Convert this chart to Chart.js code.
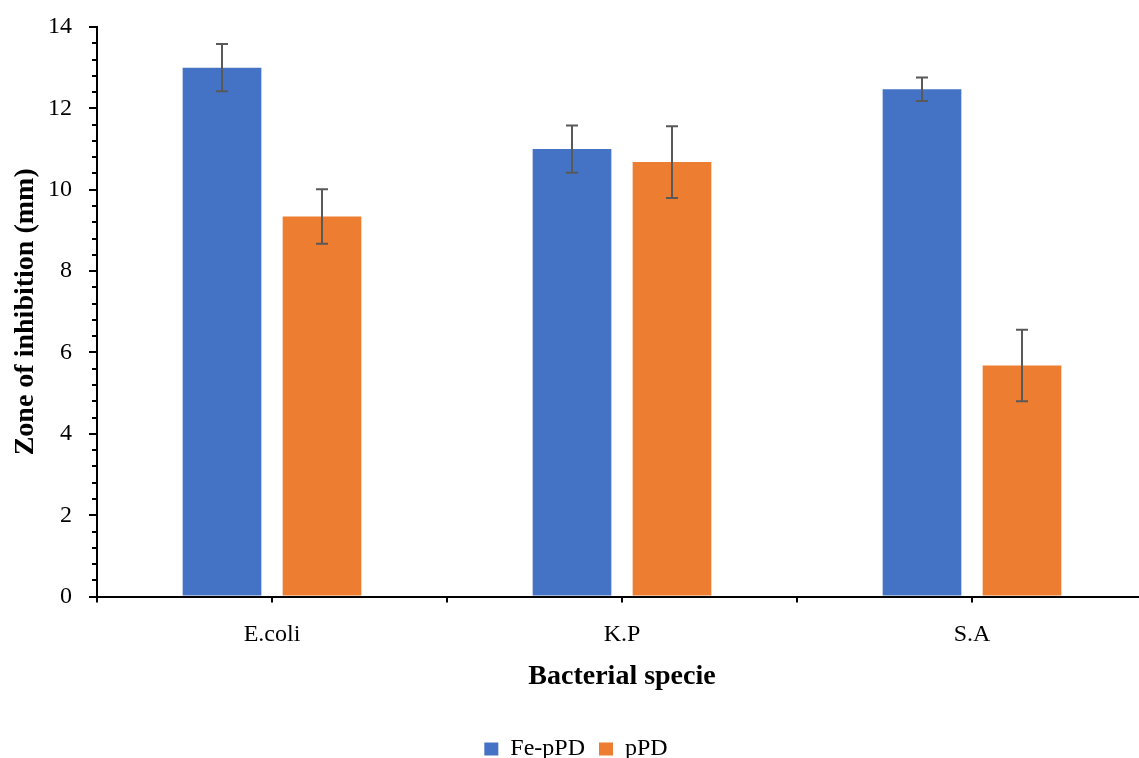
<!DOCTYPE html>
<html>
<head>
<meta charset="utf-8">
<script src="https://cdn.jsdelivr.net/npm/chart.js@4/dist/chart.umd.min.js"></script>
<style>
  html, body { margin: 0; padding: 0; overflow: hidden; background: #fff; }
  canvas { display: block; }
</style>
</head>
<body>
<canvas id="c" width="1150" height="771"></canvas>
<script>
// Zone of inhibition (mm) per bacterial species, mean and standard deviation
const species = ['E.coli', 'K.P', 'S.A'];
const fePpd = [13.0, 11.0, 12.47];
const fePpdErr = [0.58, 0.58, 0.29];
const pPd = [9.34, 10.68, 5.68];
const pPdErr = [0.67, 0.88, 0.88];
const yTicks = [0, 2, 4, 6, 8, 10, 12, 14];
const yMinorStep = 0.4;

const FONT = "'Liberation Serif', 'Times New Roman', serif";
const errors = [fePpdErr, pPdErr];

// Error whiskers, y tick marks (major + minor) and mid-category x ticks
const extrasPlugin = {
  id: 'extras',
  afterDatasetsDraw(chart) {
    const ctx = chart.ctx;
    const y = chart.scales.y;
    const x = chart.scales.x;
    ctx.save();
    // error bars
    ctx.strokeStyle = '#595959';
    ctx.lineWidth = 2;
    chart.data.datasets.forEach((ds, di) => {
      const meta = chart.getDatasetMeta(di);
      meta.data.forEach((bar, i) => {
        const v = ds.data[i];
        const e = errors[di][i];
        const yt = y.getPixelForValue(v + e);
        const yb = y.getPixelForValue(v - e);
        const cx = bar.x;
        ctx.beginPath();
        ctx.moveTo(cx, yt); ctx.lineTo(cx, yb);
        ctx.moveTo(cx - 6, yt); ctx.lineTo(cx + 6, yt);
        ctx.moveTo(cx - 6, yb); ctx.lineTo(cx + 6, yb);
        ctx.stroke();
      });
    });
    // tick marks on the value axis: long at labelled values, short in between
    ctx.strokeStyle = '#000';
    ctx.lineWidth = 2;
    const left = chart.chartArea.left;
    for (let i = 0; i * yMinorStep < yTicks[yTicks.length - 1] + 1e-9; i++) {
      const len = (i % 5 === 0) ? 8 : 5;
      const py = Math.round(y.getPixelForValue(i * yMinorStep));
      ctx.beginPath();
      ctx.moveTo(left - len, py); ctx.lineTo(left, py);
      ctx.stroke();
    }
    // ticks at category centres
    const bottom = chart.chartArea.bottom;
    species.forEach((s, i) => {
      const px = Math.round(x.getPixelForValue(i));
      ctx.beginPath();
      ctx.moveTo(px, bottom); ctx.lineTo(px, bottom + 6);
      ctx.stroke();
    });
    ctx.restore();
  }
};

new Chart(document.getElementById('c'), {
  type: 'bar',
  data: {
    labels: species,
    datasets: [
      { label: 'Fe-pPD', data: fePpd, backgroundColor: '#4472C4',
        categoryPercentage: 0.5714, barPercentage: 0.787 },
      { label: 'pPD', data: pPd, backgroundColor: '#ED7D31',
        categoryPercentage: 0.5714, barPercentage: 0.787 }
    ]
  },
  options: {
    responsive: false,
    devicePixelRatio: 1,
    animation: false,
    layout: { padding: { left: 5, right: 3, top: 27, bottom: 0 } },
    plugins: {
      legend: {
        position: 'bottom',
        labels: {
          font: { family: FONT, size: 24 },
          color: '#000',
          boxWidth: 14,
          boxHeight: 13,
          padding: 14
        }
      },
      tooltip: { enabled: false }
    },
    scales: {
      x: {
        grid: { display: true, drawOnChartArea: false, drawTicks: true, tickLength: 6,
                offset: true, color: '#000', lineWidth: 2 },
        border: { display: true, color: '#000', width: 2 },
        ticks: { font: { family: FONT, size: 24 }, color: '#000', padding: 18 },
        title: { display: true, text: 'Bacterial specie',
                 font: { family: FONT, size: 28, weight: 'bold' }, color: '#000',
                 padding: { top: -7, bottom: 29 } }
      },
      y: {
        min: 0, max: 14,
        afterBuildTicks: (scale) => { scale.ticks = yTicks.map(v => ({ value: v })); },
        afterFit: (scale) => { scale.width = 92; },
        grid: { display: true, drawOnChartArea: false, drawTicks: true, tickLength: 25,
                tickColor: 'rgba(0,0,0,0)', color: '#000', lineWidth: 2 },
        border: { display: true, color: '#000', width: 2 },
        ticks: { font: { family: FONT, size: 24 }, color: '#000', padding: 0 },
        title: { display: true, text: 'Zone of inhibition (mm)',
                 font: { family: FONT, size: 28, weight: 'bold' }, color: '#000',
                 padding: { top: 4, bottom: 4 } }
      }
    }
  },
  plugins: [extrasPlugin]
});
</script>
</body>
</html>
